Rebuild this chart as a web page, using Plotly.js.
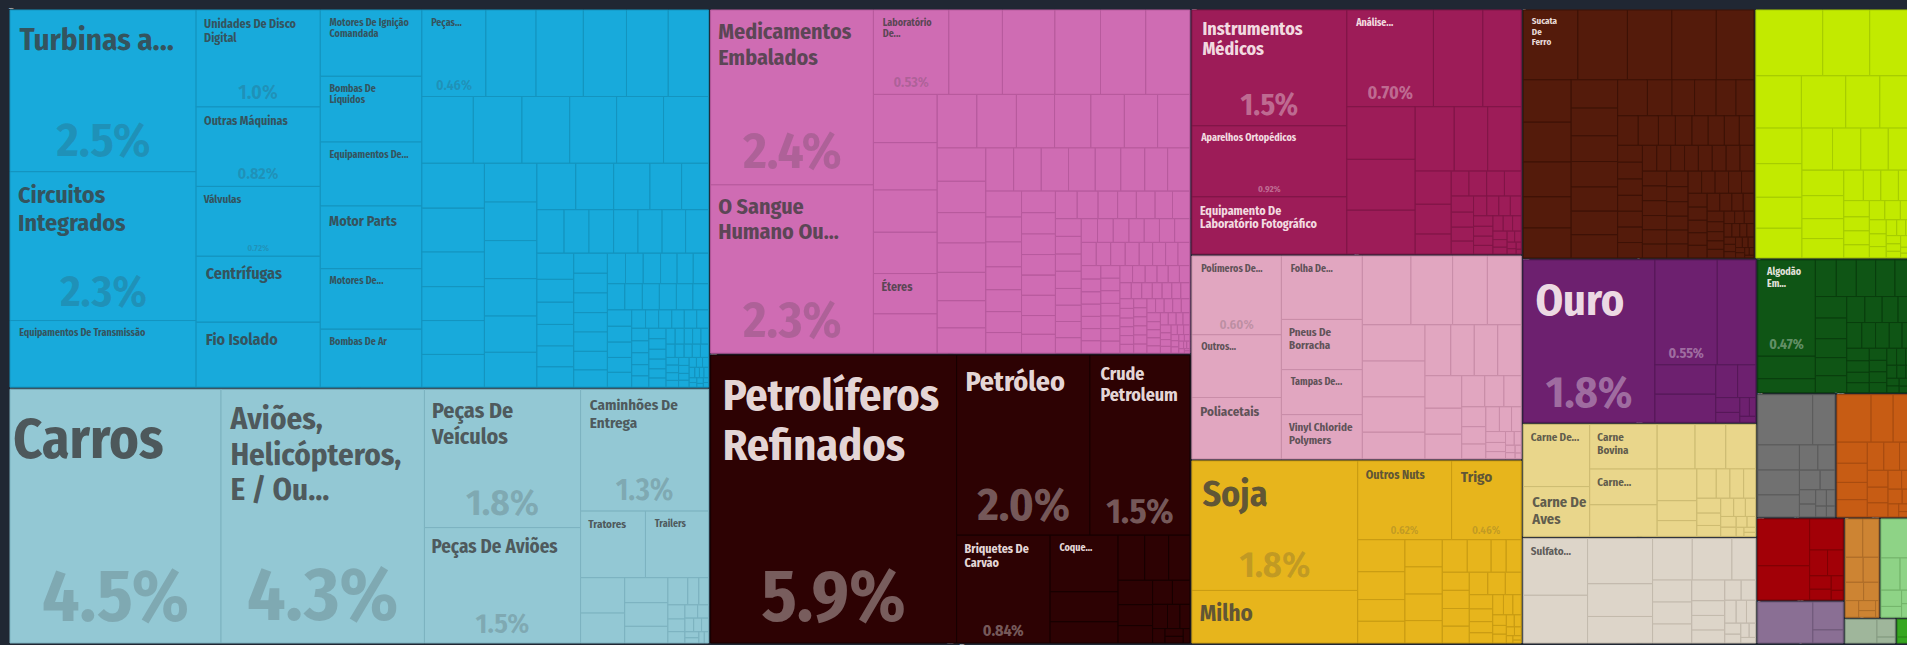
<!DOCTYPE html>
<html><head><meta charset="utf-8">
<script src="https://cdn.plot.ly/plotly-3.0.1.min.js"></script>
<style>
html,body{margin:0;padding:0;background:#202733;overflow:hidden;width:1907px;height:645px}
#chart{width:1916px;height:645px}
</style></head>
<body><div id="chart"></div>
<script>
// ---------- DATA (share of exports, %) ----------
const maquinasNomes = ['Turbinas a...', 'Circuitos<br>Integrados', 'Equipamentos De Transmissão', 'Unidades De Disco<br>Digital', 'Outras Máquinas', 'Válvulas', 'Centrífugas', 'Fio Isolado', 'Motores De Ignição<br>Comandada', 'Bombas De<br>Líquidos', 'Equipamentos De...', 'Motor Parts', 'Motores De...', 'Bombas De Ar', 'Peças...'];
const maquinasValores = [2.5, 2.3, 1.03, 1.0, 0.82, 0.72, 0.68, 0.67, 0.56, 0.555, 0.54, 0.53, 0.51, 0.49, 0.46];
const maquinasPct = ['2.5%', '2.3%', '', '1.0%', '0.82%', '0.72%', '', '', '', '', '', '', '', '', '0.46%'];
const maquinasOutros = [0.36, 0.34, 0.31, 0.30, 0.29, 0.285, 0.27, 0.265, 0.26, 0.26, 0.25, 0.233, 0.228, 0.18, 0.176, 0.176, 0.17, 0.169, 0.168, 0.166, 0.163, 0.158, 0.152, 0.150, 0.146, 0.140, 0.122, 0.104, 0.098, 0.09, 0.089, 0.088, 0.087, 0.085, 0.083, 0.08, 0.07, 0.068, 0.066, 0.064, 0.062, 0.056, 0.055, 0.055, 0.054, 0.054, 0.052, 0.048, 0.046, 0.045, 0.044, 0.042, 0.041, 0.039, 0.038, 0.038, 0.037, 0.037, 0.036, 0.034, 0.033, 0.032, 0.031, 0.03, 0.03, 0.021, 0.02, 0.02, 0.019, 0.019, 0.018, 0.018, 0.017, 0.017, 0.016, 0.016, 0.015, 0.015, 0.014, 0.014, 0.013, 0.013, 0.012, 0.012, 0.011, 0.011, 0.01, 0.01, 0.01, 0.009, 0.009, 0.009, 0.008, 0.008, 0.008, 0.007, 0.007, 0.007, 0.006, 0.006, 0.006, 0.005, 0.005, 0.005, 0.004, 0.004, 0.004, 0.003, 0.003, 0.003, 0.002, 0.002, 0.002];

const transporteNomes = ['Carros', 'Aviões,<br>Helicópteros,<br>E / Ou...', 'Peças De<br>Veículos', 'Peças De Aviões', 'Caminhões De<br>Entrega', 'Tratores', 'Trailers'];
const transporteValores = [4.46, 4.3, 1.8, 1.5, 1.3, 0.36, 0.35];
const transportePct = ['4.5%', '4.3%', '1.8%', '1.5%', '1.3%', '', ''];
const transporteOutros = [0.13, 0.11, 0.09, 0.085, 0.06, 0.045, 0.025, 0.022, 0.02, 0.018, 0.016, 0.014, 0.012, 0.01, 0.009, 0.008, 0.007, 0.006, 0.005, 0.004];

const quimicosNomes = ['Medicamentos<br>Embalados', 'O Sangue<br>Humano Ou...', 'Laboratório<br>De...', 'Éteres'];
const quimicosValores = [2.37, 2.28, 0.53, 0.214];
const quimicosPct = ['2.4%', '2.3%', '0.53%', ''];
const quimicosOutros = [0.376, 0.369, 0.32, 0.318, 0.31, 0.256, 0.251, 0.224, 0.219, 0.208, 0.177, 0.176, 0.17, 0.162, 0.149, 0.148, 0.144, 0.135, 0.127, 0.123, 0.119, 0.115, 0.11, 0.102, 0.1, 0.099, 0.098, 0.096, 0.092, 0.086, 0.082, 0.08, 0.077, 0.074, 0.074, 0.068, 0.065, 0.062, 0.061, 0.061, 0.06, 0.058, 0.058, 0.057, 0.057, 0.053, 0.053, 0.05, 0.048, 0.045, 0.043, 0.043, 0.04, 0.04, 0.038, 0.038, 0.037, 0.037, 0.036, 0.035, 0.035, 0.033, 0.032, 0.031, 0.031, 0.03, 0.03, 0.03, 0.03, 0.029, 0.028, 0.028, 0.027, 0.026, 0.025, 0.024, 0.023, 0.022, 0.021, 0.02, 0.02, 0.02, 0.02, 0.02, 0.02, 0.02, 0.02, 0.02, 0.02, 0.02, 0.019, 0.018, 0.018, 0.017, 0.016, 0.016, 0.015, 0.015, 0.014, 0.014, 0.013, 0.013, 0.012, 0.012, 0.011, 0.011, 0.01, 0.01, 0.01, 0.01, 0.01, 0.01, 0.01, 0.01, 0.01, 0.01, 0.01, 0.01, 0.01, 0.01, 0.01, 0.01, 0.009, 0.009, 0.009, 0.008, 0.008, 0.008, 0.007, 0.007, 0.007, 0.006, 0.006, 0.006, 0.005, 0.005, 0.005, 0.004, 0.004, 0.004, 0.003, 0.003, 0.003, 0.002, 0.002, 0.002, 0.001, 0.001];

const mineraisNomes = ['Petrolíferos<br>Refinados', 'Petróleo', 'Crude<br>Petroleum', 'Briquetes De<br>Carvão', 'Coque...'];
const mineraisValores = [5.9, 2.0, 1.5, 0.84, 0.32];
const mineraisPct = ['5.9%', '2.0%', '1.5%', '0.84%', ''];
const mineraisOutros = [0.17, 0.12, 0.1, 0.09, 0.08, 0.07, 0.06, 0.05, 0.04, 0.035, 0.03, 0.025, 0.02, 0.015, 0.012, 0.01, 0.008];

const instrumentosNomes = ['Instrumentos<br>Médicos', 'Aparelhos Ortopédicos', 'Equipamento De<br>Laboratório Fotográfico', 'Análise...'];
const instrumentosValores = [1.5, 0.92, 0.74, 0.70];
const instrumentosPct = ['1.5%', '0.92%', '', '0.70%'];
const instrumentosOutros = [0.40, 0.31, 0.30, 0.29, 0.25, 0.21, 0.18, 0.18, 0.10, 0.09, 0.06, 0.037, 0.037, 0.037, 0.035, 0.03, 0.028, 0.026, 0.024, 0.022, 0.02, 0.019, 0.018, 0.017, 0.016, 0.015, 0.014, 0.013, 0.012, 0.011, 0.01, 0.009, 0.008, 0.007, 0.006, 0.005, 0.004, 0.003, 0.002];

const plasticosNomes = ['Polímeros De...', 'Outros...', 'Poliacetais', 'Folha De...', 'Pneus De<br>Borracha', 'Tampas De...', 'Vinyl Chloride<br>Polymers'];
const plasticosValores = [0.59, 0.47, 0.46, 0.43, 0.34, 0.305, 0.30];
const plasticosPct = ['0.60%', '', '', '', '', '', ''];
const plasticosOutros = [0.28, 0.24, 0.20, 0.195, 0.19, 0.188, 0.185, 0.14, 0.11, 0.10, 0.10, 0.10, 0.10, 0.08, 0.076, 0.06, 0.05, 0.045, 0.04, 0.035, 0.03, 0.028, 0.025, 0.02, 0.018, 0.015, 0.012, 0.01, 0.008, 0.006, 0.005, 0.004, 0.003];

const vegetaisNomes = ['Soja', 'Milho', 'Outros Nuts', 'Trigo'];
const vegetaisValores = [1.8, 0.73, 0.62, 0.46];
const vegetaisPct = ['1.8%', '', '0.62%', '0.46%'];
const vegetaisOutros = [0.127, 0.11, 0.086, 0.086, 0.085, 0.085, 0.083, 0.07, 0.068, 0.065, 0.041, 0.041, 0.041, 0.041, 0.04, 0.038, 0.035, 0.033, 0.03, 0.028, 0.025, 0.022, 0.02, 0.018, 0.016, 0.014, 0.012, 0.01, 0.01, 0.008, 0.007, 0.006, 0.005, 0.004, 0.003, 0.002];

const metaisNomes = ['Sucata<br>De<br>Ferro'];
const metaisValores = [0.32];
const metaisPct = [''];
const metaisOutros = [0.29, 0.26, 0.26, 0.22, 0.17, 0.16, 0.14, 0.125, 0.12, 0.11, 0.108, 0.1, 0.099, 0.094, 0.092, 0.09, 0.09, 0.074, 0.068, 0.065, 0.06, 0.054, 0.051, 0.05, 0.042, 0.041, 0.04, 0.04, 0.037, 0.036, 0.035, 0.035, 0.034, 0.033, 0.033, 0.032, 0.032, 0.031, 0.03, 0.03, 0.03, 0.03, 0.03, 0.03, 0.03, 0.03, 0.03, 0.03, 0.029, 0.029, 0.028, 0.028, 0.027, 0.026, 0.025, 0.025, 0.025, 0.025, 0.025, 0.025, 0.024, 0.023, 0.022, 0.021, 0.02, 0.02, 0.02, 0.019, 0.018, 0.017, 0.016, 0.015, 0.014, 0.013, 0.012, 0.012, 0.011, 0.01, 0.01, 0.009, 0.009, 0.008, 0.008, 0.007, 0.007, 0.006, 0.006, 0.005, 0.005, 0.004, 0.004, 0.003, 0.003, 0.002];

const alimentosOutros = [0.37, 0.26, 0.245, 0.2, 0.195, 0.15, 0.15, 0.138, 0.13, 0.12, 0.115, 0.108, 0.1, 0.097, 0.091, 0.09, 0.081, 0.07, 0.068, 0.05, 0.045, 0.045, 0.04, 0.035, 0.03, 0.03, 0.028, 0.025, 0.025, 0.022, 0.02, 0.018, 0.016, 0.014, 0.012, 0.011, 0.01, 0.009, 0.008, 0.007, 0.006, 0.005, 0.004, 0.003];

const preciososNomes = ['Ouro', ''];
const preciososValores = [1.8, 0.55];
const preciososPct = ['1.8%', '0.55%'];
const preciososOutros = [0.34, 0.15, 0.144, 0.06, 0.05, 0.03, 0.02, 0.015, 0.01, 0.008];

const animaisNomes = ['Carne De...', 'Carne De<br>Aves', 'Carne<br>Bovina', 'Carne...'];
const animaisValores = [0.35, 0.28, 0.255, 0.204];
const animaisPct = ['', '', '', ''];
const animaisOutros = [0.18, 0.143, 0.116, 0.113, 0.107, 0.067, 0.053, 0.048, 0.034, 0.034, 0.03, 0.03, 0.025, 0.022, 0.02, 0.018, 0.016, 0.014, 0.012, 0.01, 0.008, 0.006, 0.005, 0.004];

const papelNomes = ['Sulfato...'];
const papelValores = [0.31];
const papelPct = [''];
const papelOutros = [0.26, 0.25, 0.18, 0.146, 0.14, 0.14, 0.084, 0.073, 0.073, 0.063, 0.058, 0.041, 0.041, 0.036, 0.028, 0.025, 0.022, 0.02, 0.018, 0.015, 0.012, 0.01, 0.008, 0.007];

const texteisNomes = ['Algodão<br>Em...'];
const texteisValores = [0.47];
const texteisPct = ['0.47%'];
const texteisOutros = [0.11, 0.068, 0.065, 0.062, 0.06, 0.06, 0.059, 0.057, 0.055, 0.05, 0.048, 0.045, 0.04, 0.038, 0.035, 0.035, 0.033, 0.03, 0.03, 0.028, 0.026, 0.024, 0.022, 0.02, 0.019, 0.018, 0.017, 0.016, 0.015, 0.014, 0.013, 0.012, 0.011, 0.01, 0.009, 0.008, 0.007, 0.006, 0.005, 0.004, 0.003];

const pedraOutros = [0.237, 0.096, 0.09, 0.089, 0.079, 0.04, 0.037, 0.035, 0.025, 0.02, 0.018, 0.015, 0.012, 0.01, 0.008];
const madeiraOutros = [0.139, 0.09, 0.085, 0.055, 0.05, 0.045, 0.045, 0.04, 0.038, 0.035, 0.03, 0.028, 0.025, 0.022, 0.02, 0.018, 0.015, 0.012, 0.01, 0.007];
const calcadosOutros = [0.21, 0.153, 0.09, 0.04, 0.035, 0.025, 0.02, 0.015, 0.01];
const armasOutros = [0.2, 0.075, 0.035];
const diversosOutros = [0.06, 0.055, 0.04, 0.035, 0.03, 0.025, 0.02, 0.015, 0.01, 0.005];
const couroOutros = [0.115, 0.055, 0.04, 0.03, 0.02, 0.015, 0.01, 0.005];
const arteOutros = [0.07, 0.03, 0.01];
const outrosOutros = [0.03, 0.01];

// ---------- STYLES (font sizes per named leaf: [name, pct]) ----------
const maquinasFonte = [[31,48],[24,44],[10,0],[12,20],[12,16],[11,9],[16,0],[16,0],[10,0],[10,0],[10,0],[14,0],[10,0],[10,0],[10,14]];
const transporteFonte = [[56,73],[31,75],[22,37],[19,28],[15,30],[11,0],[10,0]];
const quimicosFonte = [[22,51],[22,50],[10,14],[12,0]];
const mineraisFonte = [[44,72],[28,46],[18,35],[12,16],[10,0]];
const instrumentosFonte = [[18,30],[10,9],[12,0],[10,18]];
const plasticosFonte = [[10,13],[10,0],[13,0],[10,0],[11,0],[10,0],[11,0]];
const vegetaisFonte = [[36,36],[23,0],[12,11],[15,11]];
const metaisFonte = [[9,0]];
const preciososFonte = [[44,44],[0,14]];
const animaisFonte = [[11,0],[15,0],[11,0],[11,0]];
const papelFonte = [[11,0]];
const texteisFonte = [[10,14]];

const BG = '#202733';
const FONT = 'Fira Sans Condensed, Liberation Sans Narrow, DejaVu Sans Condensed, Roboto Condensed, Arial Narrow, Roboto, sans-serif';
const LINE_RATIO = 0.885;   // base size / glyph size -> tighter line spacing

const setores = [
  {nome:'Máquinas', cor:'#18AADB', linha:'#1494BF', escuro:false, nomes:maquinasNomes, valores:maquinasValores, pct:maquinasPct, fonte:maquinasFonte, outros:maquinasOutros},
  {nome:'Transporte', cor:'#93C8D4', linha:'#7DB3C0', escuro:false, nomes:transporteNomes, valores:transporteValores, pct:transportePct, fonte:transporteFonte, outros:transporteOutros},
  {nome:'Produtos Químicos', cor:'#CF6CB3', linha:'#B75A9D', escuro:false, nomes:quimicosNomes, valores:quimicosValores, pct:quimicosPct, fonte:quimicosFonte, outros:quimicosOutros},
  {nome:'Produtos Minerais', cor:'#2D0203', linha:'#170000', escuro:true, nomes:mineraisNomes, valores:mineraisValores, pct:mineraisPct, fonte:mineraisFonte, outros:mineraisOutros},
  {nome:'Instrumentos', cor:'#9D1C58', linha:'#801547', escuro:true, nomes:instrumentosNomes, valores:instrumentosValores, pct:instrumentosPct, fonte:instrumentosFonte, outros:instrumentosOutros},
  {nome:'Plásticos e Borrachas', cor:'#E1A6C0', linha:'#C98DA8', escuro:false, nomes:plasticosNomes, valores:plasticosValores, pct:plasticosPct, fonte:plasticosFonte, outros:plasticosOutros},
  {nome:'Produtos Vegetais', cor:'#E7B51C', linha:'#C99C13', escuro:false, nomes:vegetaisNomes, valores:vegetaisValores, pct:vegetaisPct, fonte:vegetaisFonte, outros:vegetaisOutros},
  {nome:'Metais', cor:'#541B0B', linha:'#3D1206', escuro:true, nomes:metaisNomes, valores:metaisValores, pct:metaisPct, fonte:metaisFonte, outros:metaisOutros},
  {nome:'Gêneros Alimentícios', cor:'#C2EA00', linha:'#A6CC00', escuro:false, nomes:[], valores:[], pct:[], fonte:[], outros:alimentosOutros},
  {nome:'Metais Preciosos', cor:'#6D206F', linha:'#561858', escuro:true, nomes:preciososNomes, valores:preciososValores, pct:preciososPct, fonte:preciososFonte, outros:preciososOutros},
  {nome:'Produtos Animais', cor:'#E9D68B', linha:'#CEBC72', escuro:false, nomes:animaisNomes, valores:animaisValores, pct:animaisPct, fonte:animaisFonte, outros:animaisOutros},
  {nome:'Produtos de Papel', cor:'#DDD5C9', linha:'#C3BAAD', escuro:false, nomes:papelNomes, valores:papelValores, pct:papelPct, fonte:papelFonte, outros:papelOutros},
  {nome:'Têxteis', cor:'#0F5515', linha:'#093E0D', escuro:true, nomes:texteisNomes, valores:texteisValores, pct:texteisPct, fonte:texteisFonte, outros:texteisOutros},
  {nome:'Pedra e Vidro', cor:'#717171', linha:'#5B5B5B', escuro:true, nomes:[], valores:[], pct:[], fonte:[], outros:pedraOutros},
  {nome:'Produtos de Madeira', cor:'#C75C14', linha:'#A84C10', escuro:true, nomes:[], valores:[], pct:[], fonte:[], outros:madeiraOutros},
  {nome:'Calçados e Chapéus', cor:'#A20007', linha:'#7F0004', escuro:true, nomes:[], valores:[], pct:[], fonte:[], outros:calcadosOutros},
  {nome:'Armas', cor:'#8A6F94', linha:'#715A7A', escuro:true, nomes:[], valores:[], pct:[], fonte:[], outros:armasOutros},
  {nome:'Diversos', cor:'#CD8433', linha:'#AE6D28', escuro:true, nomes:[], valores:[], pct:[], fonte:[], outros:diversosOutros},
  {nome:'Peles e Couros', cor:'#8ED386', linha:'#74B56B', escuro:false, nomes:[], valores:[], pct:[], fonte:[], outros:couroOutros},
  {nome:'Obras de Arte', cor:'#9FB69B', linha:'#869C82', escuro:false, nomes:[], valores:[], pct:[], fonte:[], outros:arteOutros},
  {nome:'Outros', cor:'#36A720', linha:'#2A8A18', escuro:false, nomes:[], valores:[], pct:[], fonte:[], outros:outrosOutros}
];

// name block: a tiny spacer line on top, then each line at its own size with a small left inset
function rotulo(texto, tamanho) {
  if (!texto) return '';
  const n = Math.max(0, Math.round(6 / (0.22 * tamanho)));
  const pre = '\u00A0'.repeat(n);
  const linhas = texto.split('<br>').map(l => '<span style="font-size:' + tamanho + 'px">' + pre + l + '</span>');
  return '<span style="font-size:1px">\u00A0</span><br>' + linhas.join('<br>');
}

const ids = [], labels = [], parents = [], values = [], fills = [], lineCols = [], lineW = [];
const nameText = [], pctText = [], nameSize = [], pctSize = [], nameCol = [], pctCol = [];
function push(id, label, parent, v, fill, lc, lw, nt, pt, ns, ps, nc, pc) {
  ids.push(id); labels.push(label); parents.push(parent); values.push(v);
  fills.push(fill); lineCols.push(lc); lineW.push(lw);
  nameText.push(nt); pctText.push(pt); nameSize.push(ns); pctSize.push(ps); nameCol.push(nc); pctCol.push(pc);
}
push('root', 'Exportações', '', 0, BG, BG, 0, '', '', 10, 10, '#fff', '#fff');
setores.forEach(s => {
  const nc = s.escuro ? 'rgba(255,244,244,0.9)' : 'rgba(60,60,60,0.8)';
  const pc = s.escuro ? 'rgba(255,255,255,0.36)' : 'rgba(60,60,60,0.22)';
  push(s.nome, s.nome, 'root', 0, BG, BG, 0, '', '', 10, 10, nc, pc);
  s.nomes.forEach((n, i) => {
    const f = s.fonte[i];
    const ns = f[0] || 10;
    push(s.nome + '|' + i, n || s.pct[i], s.nome, s.valores[i], s.cor, s.linha, 1,
         rotulo(n, ns), s.pct[i], ns * LINE_RATIO, f[1] || 10, nc, pc);
  });
  s.outros.forEach((v, j) => {
    push(s.nome + '|o' + j, s.nome + ' ' + (j + 1), s.nome, v, s.cor, s.linha, 1, '', '', 10, 10, nc, pc);
  });
});

const common = {
  type: 'treemap', ids: ids, labels: labels, parents: parents, values: values,
  branchvalues: 'remainder', sort: true, maxdepth: -1,
  tiling: {packing: 'squarify', squarifyratio: 1.618, pad: 0},
  pathbar: {visible: false}, hoverinfo: 'skip', textinfo: 'text'
};
const namesTrace = Object.assign({}, common, {
  text: nameText, textposition: 'top left',
  textfont: {family: FONT, size: nameSize, color: nameCol, weight: 'bold'},
  root: {color: BG},
  marker: {colors: fills, line: {color: lineCols, width: lineW}, pad: {t: 1, l: 1, r: 1, b: 1}, depthfade: false}
});
const pctTrace = Object.assign({}, common, {
  text: pctText, textposition: 'bottom center',
  textfont: {family: FONT, size: pctSize, color: pctCol, weight: 'bold'},
  root: {color: 'rgba(0,0,0,0)'},
  marker: {colors: ids.map(() => 'rgba(0,0,0,0)'), line: {width: 0}, pad: {t: 1, l: 1, r: 1, b: 1}, depthfade: false}
});

Plotly.newPlot('chart', [namesTrace, pctTrace], {
  width: 1916, height: 645,
  margin: {l: 8, r: 0, t: 8, b: 0},
  paper_bgcolor: BG, plot_bgcolor: BG, showlegend: false
}, {staticPlot: true, displayModeBar: false});
</script>
</body></html>
